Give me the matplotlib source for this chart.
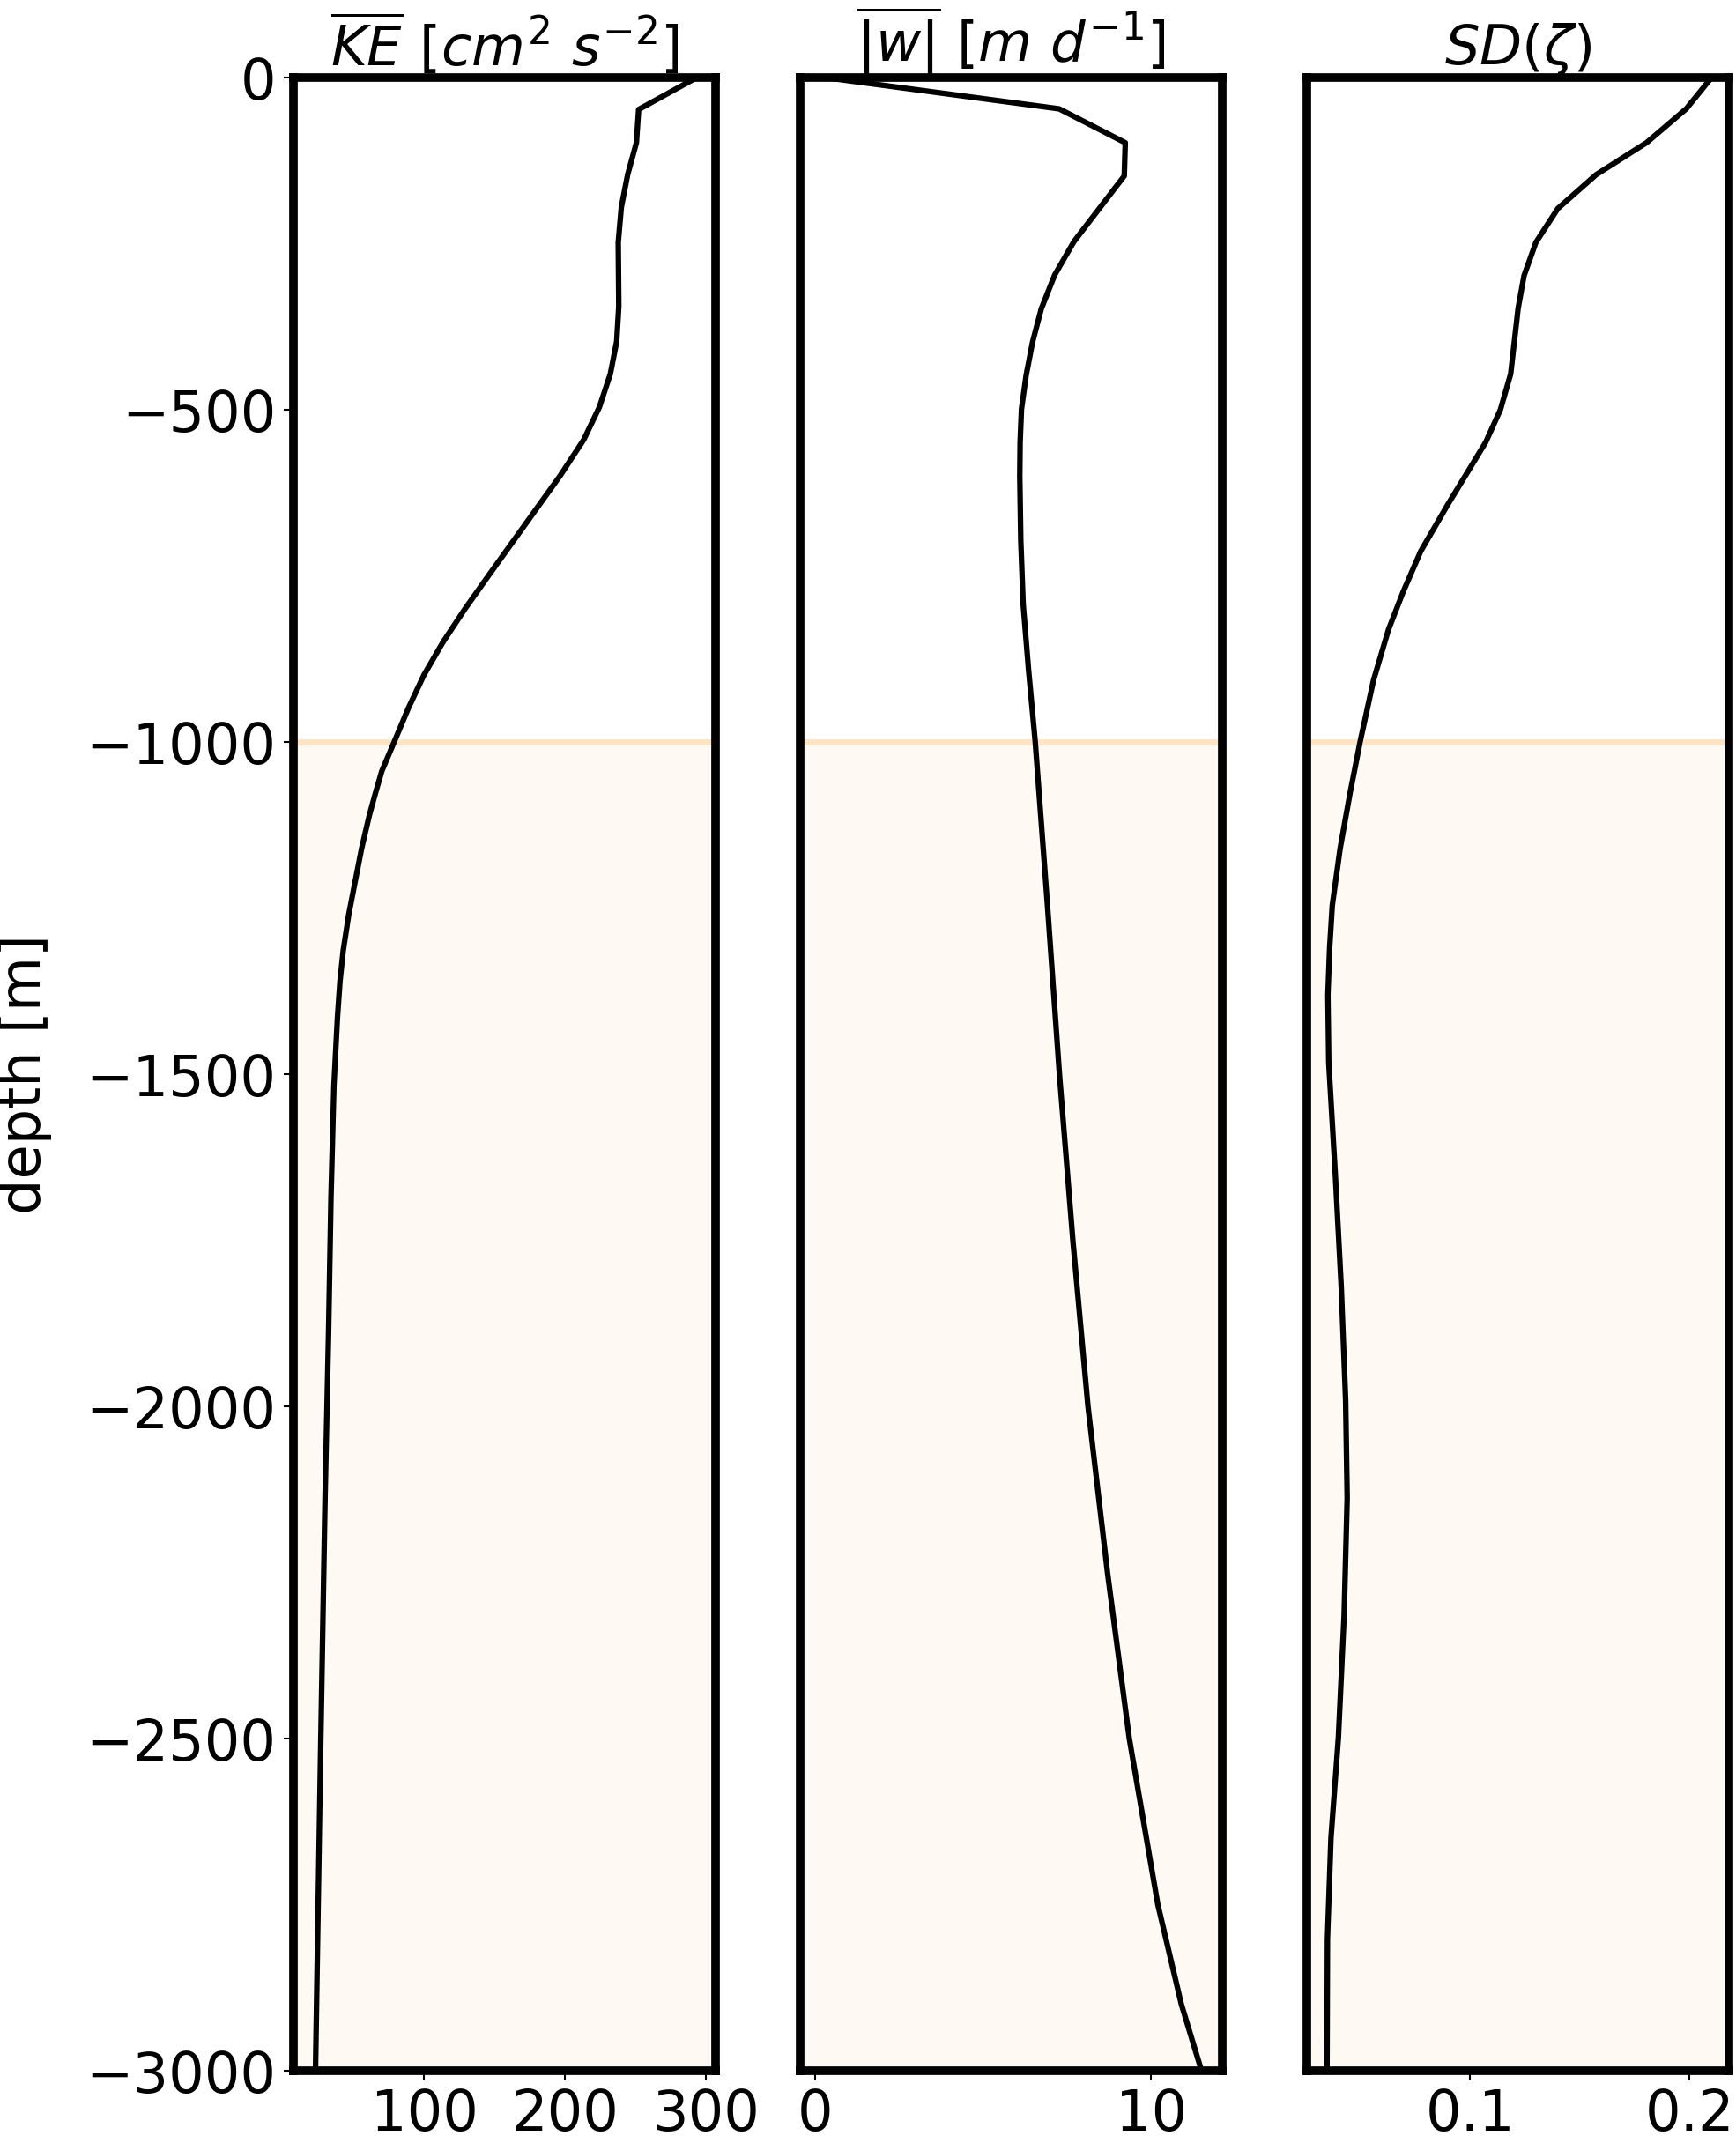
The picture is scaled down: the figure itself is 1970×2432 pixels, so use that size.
import numpy as np
import matplotlib.pyplot as plt

# -----------------------------
# Profiles
# -----------------------------
ke_depth = [0, -48, -98, -146, -195, -248, -344, -397, -446, -496, -545, -599,
            -747, -800, -850, -899, -949, -994, -1044, -1077, -1110, -1160,
            -1212, -1260, -1314, -1360, -1415, -1517, -1686, -1889, -2138,
            -2500, -3000]
ke_vals = [293.5, 252.3, 250.7, 244.5, 240, 237.8, 238.2, 236.7, 232.2, 224.4,
           213.3, 196.6, 146.5, 128.8, 113.2, 99.8, 88.7, 79.8, 69.8, 65.3,
           61.0, 55.5, 50.7, 46.3, 42.4, 40.1, 38.3, 35.8, 33.7, 32.0, 29.5,
           26.5, 22.7]

w_depth = [0, -47, -98, -148, -247, -297, -348, -398, -448, -499, -549, -600,
           -697, -792, -891, -1000, -1250, -1500, -1750, -2000, -2250, -2500,
           -2750, -2900, -3000]
w_vals = [0.3, 7.26, 9.23, 9.2, 7.7, 7.13, 6.73, 6.47, 6.28, 6.14, 6.1, 6.09,
          6.12, 6.19, 6.35, 6.55, 6.92, 7.27, 7.67, 8.12, 8.7, 9.35, 10.2, 10.9, 11.5]

sd_depth = [0, -47, -98, -146, -197, -248, -298, -347, -446, -500, -549, -644,
            -713, -774, -831, -907, -998, -1077, -1160, -1246, -1310, -1381,
            -1483, -1652, -1821, -1991, -2138, -2315, -2498, -2650, -2802, -3000]
sd_vals = [0.210, 0.1985, 0.1804, 0.1575, 0.140, 0.130, 0.1246, 0.1219, 0.1185,
           0.1138, 0.1071, 0.0896, 0.0775, 0.0695, 0.0628, 0.056, 0.050, 0.0453,
           0.0408, 0.0372, 0.0360, 0.0352, 0.0356, 0.0386, 0.0413, 0.0433,
           0.0440, 0.0426, 0.0400, 0.0366, 0.0350, 0.0348]

titles = [r'$\overline{KE}\ [cm^2\ s^{-2}]$', r'$\overline{|w|}\ [m\ d^{-1}]$',
          r'$SD(\zeta)$']
xlims = [(7, 307), (-0.45, 12.12), (0.0256, 0.218)]
xticks = [[100, 200, 300], [0, 10], [0.1, 0.2]]
xticklabels = [['100', '200', '300'], ['0', '10'], ['0.1', '0.2']]

plt.rcParams['font.size'] = 46
plt.rcParams['axes.linewidth'] = 7

fig, axes = plt.subplots(1, 3, figsize=(19.7, 24.32), dpi=100, sharey=True)
fig.subplots_adjust(left=0.169, right=0.996, bottom=0.0337, top=0.9638, wspace=0.2)

profiles = [(ke_vals, ke_depth), (w_vals, w_depth), (sd_vals, sd_depth)]
for i, ax in enumerate(axes):
    x, z = profiles[i]
    ax.axhspan(-3000, -1000, color='bisque', alpha=0.2, lw=0)
    ax.axhline(-1000, color='bisque', lw=5)
    ax.plot(x, z, color='k', lw=4.5)
    ax.set_xlim(*xlims[i])
    ax.set_ylim(-3000, 0)
    ax.set_xticks(xticks[i])
    ax.set_xticklabels(xticklabels[i])
    ax.set_title(titles[i], fontsize=45, pad=8)
    ax.tick_params(length=8, width=1.5, pad=6)
    if i > 0:
        ax.tick_params(left=False, labelleft=False)

axes[0].set_yticks([0, -500, -1000, -1500, -2000, -2500, -3000])
axes[0].set_ylabel('depth [m]', labelpad=28)

plt.savefig('out.png', dpi=100)
